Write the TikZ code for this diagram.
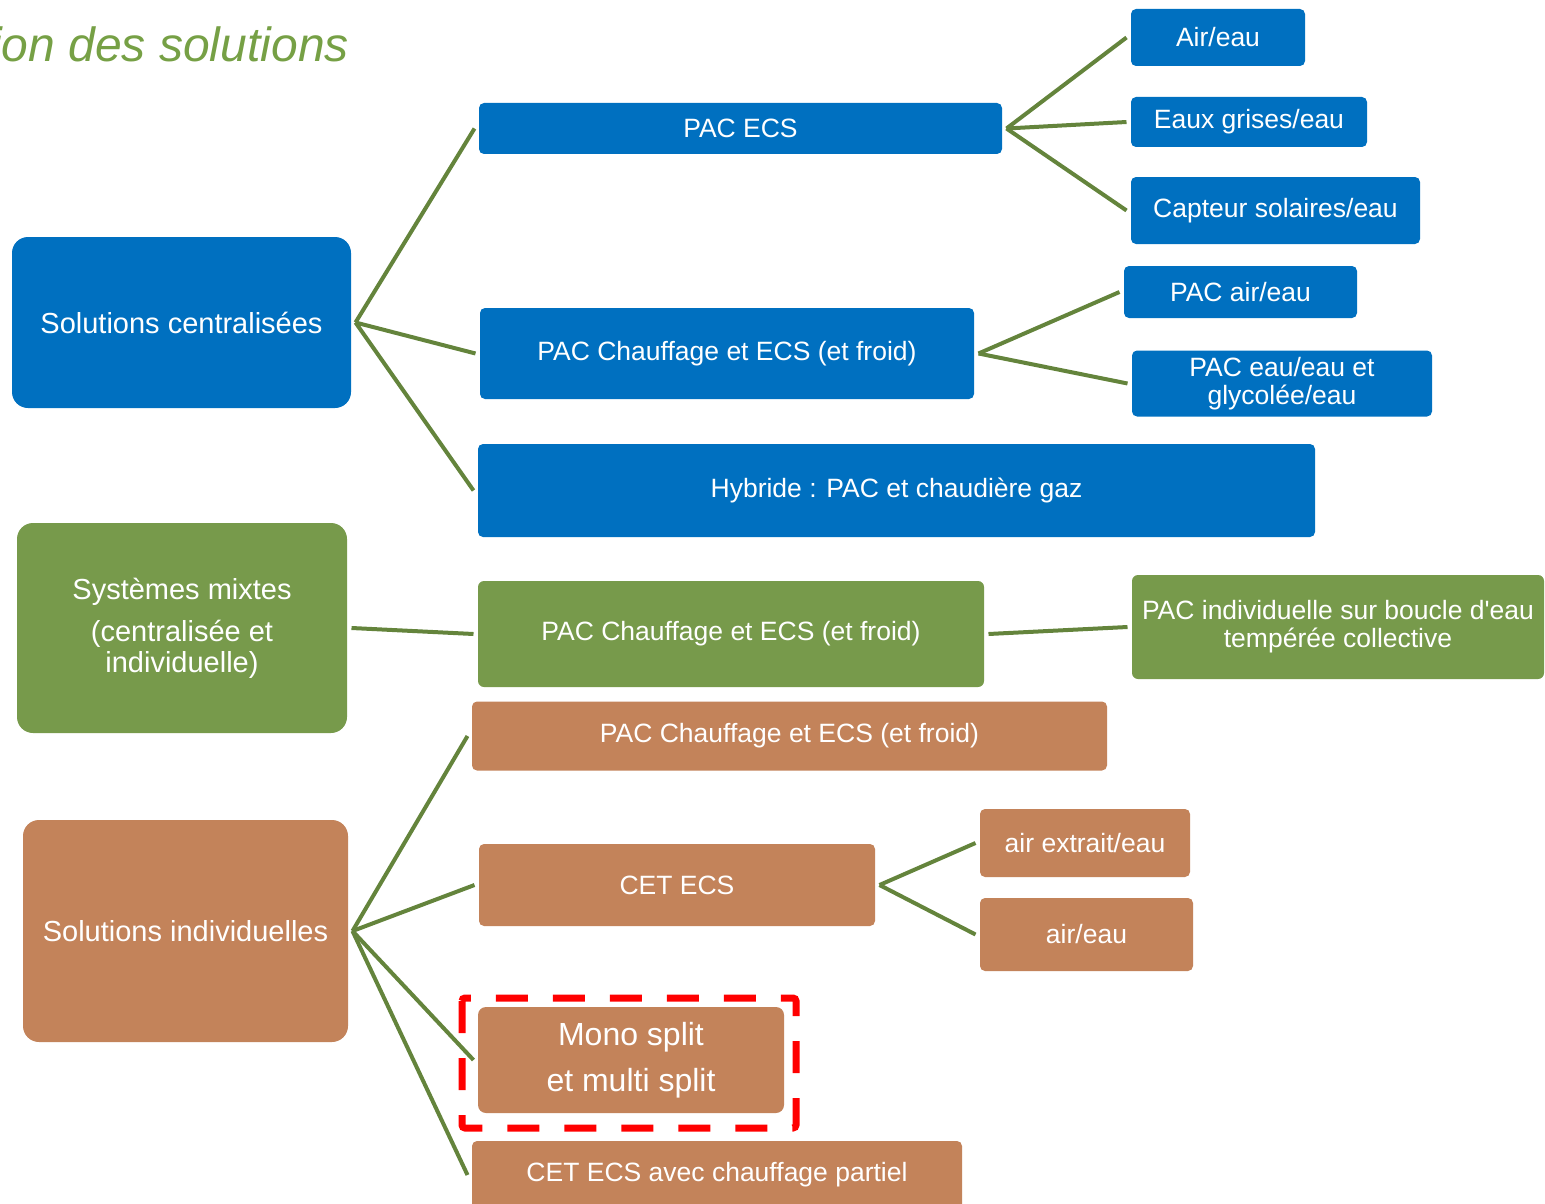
\documentclass[tikz,border=0pt]{standalone}
\usepackage{fontspec}
\setmainfont{Liberation Sans}[Ligatures=TeXOff]
\definecolor{cblue}{HTML}{0070C0}
\definecolor{cgreen}{HTML}{779A4B}
\definecolor{cbrown}{HTML}{C3835A}
\definecolor{clink}{HTML}{64843C}
\definecolor{ctitle}{HTML}{76A045}
\definecolor{cred}{HTML}{FF0000}
\begin{document}
\begin{tikzpicture}[x=1pt,y=-1pt,
  box/.style={rounded corners=5pt, inner sep=0pt, outer xsep=4.5pt, outer ysep=0pt,
    text=white, align=center, font=\fontsize{26.5}{28}\selectfont},
  sz/.style 2 args={minimum width=#1pt, minimum height=#2pt},
  bluebox/.style={box, fill=cblue},
  greenbox/.style={box, fill=cgreen},
  brownbox/.style={box, fill=cbrown},
  rootbox/.style={rounded corners=16pt, font=\fontsize{29}{31}\selectfont},
  link/.style={draw=clink, line width=4pt},
  frame/.style={draw=cred, line width=7pt, dash pattern=on 32pt off 25pt, rounded corners=3pt},
]
\useasboundingbox (0,0) rectangle (1545,1204);

% heading
\node[anchor=base east, inner sep=0pt, text=ctitle,
      font=\fontsize{48}{50}\selectfont\itshape] (title) at (349,62) {ion des solutions};

% centralised solutions
\node[bluebox, rootbox, sz={339}{171}] (cent) at (181.5,322.5) {Solutions centralisées};
\node[bluebox, sz={523}{51}] (pacecs) at (740.5,128.5) {PAC ECS};
\node[bluebox, sz={494}{91}] (pacch) at (727,353.5) {PAC Chauffage et ECS (et froid)};
\node[bluebox, sz={837}{93}] (hyb) at (896.5,490.5) {Hybride : PAC et chaudière gaz};
\node[bluebox, sz={174}{57}] (aireau) at (1218,37.5) {Air/eau};
\node[bluebox, sz={236}{50}] (grises) at (1249,122) {Eaux grises/eau};
\node[bluebox, sz={289}{67}] (capteur) at (1275.5,210.5) {Capteur solaires/eau};
\node[bluebox, sz={233}{52}] (pacair) at (1240.5,292) {PAC air/eau};
\node[bluebox, sz={300}{66}] (paceau) at (1282,383.5) {PAC eau/eau et\\glycolée/eau};

% mixed systems
\node[greenbox, rootbox, sz={330}{210}] (mixte) at (182,628)
  {Systèmes mixtes\\[11pt](centralisée et\\individuelle)};
\node[greenbox, rounded corners=6pt, sz={506}{106}] (pacmix) at (731,634) {PAC Chauffage et ECS (et froid)};
\node[greenbox, rounded corners=6pt, sz={412}{104}] (boucle) at (1338,627)
  {PAC individuelle sur boucle d'eau\\tempérée collective};

% individual solutions
\node[brownbox, rootbox, sz={325}{222}] (indiv) at (185.5,931) {Solutions individuelles};
\node[brownbox, sz={635}{69}] (pacind) at (789.5,736) {PAC Chauffage et ECS (et froid)};
\node[brownbox, sz={396}{82}] (cet) at (677,885) {CET ECS};
\node[brownbox, sz={210}{68}] (extrait) at (1085,843) {air extrait/eau};
\node[brownbox, sz={213}{73}] (aireau2) at (1086.5,934.5) {air/eau};
\node[brownbox, rounded corners=8pt, sz={306}{106}, font=\fontsize{32}{46}\selectfont] (mono) at (631,1060)
  {Mono split\\et multi split};
\node[brownbox, sz={490}{68}] (cetpart) at (717,1175) {CET ECS avec chauffage partiel};

% connectors
\foreach \a/\b in {cent/pacecs, cent/pacch, cent/hyb,
                   pacecs/aireau, pacecs/grises, pacecs/capteur,
                   pacch/pacair, pacch/paceau,
                   mixte/pacmix, pacmix/boucle,
                   indiv/pacind, indiv/cet, indiv/mono, indiv/cetpart,
                   cet/extrait, cet/aireau2}
  \draw[link] (\a.east) -- (\b.west);

% highlight frame
\draw[frame] (462,998) rectangle (796,1128);
\end{tikzpicture}
\end{document}
